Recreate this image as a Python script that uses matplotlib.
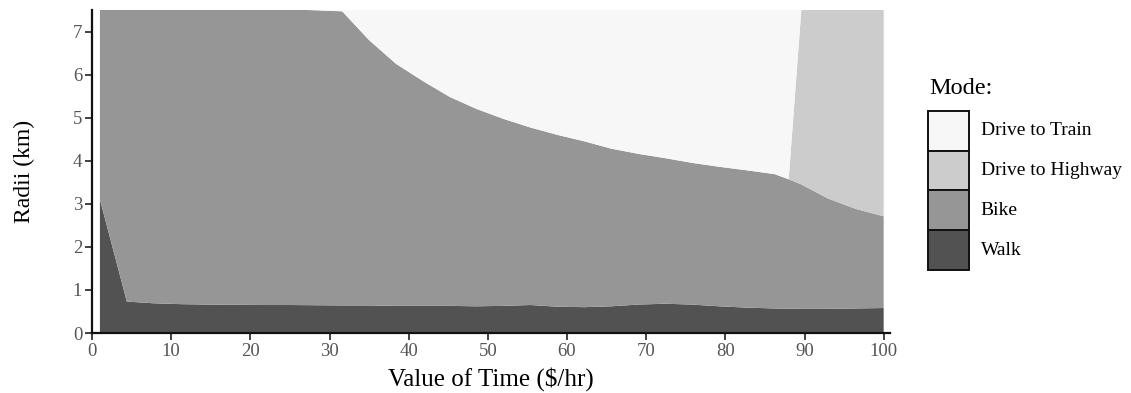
import matplotlib
matplotlib.use("Agg")
import matplotlib.pyplot as plt
from matplotlib.patches import Rectangle

plt.rcParams['font.family'] = ['Liberation Serif', 'DejaVu Serif']

# value of time ($/hr)
vot = [1, 4.4, 7.8, 11.2, 14.6, 18, 21.4, 24.8, 28.2, 31.6, 35, 38.4, 41.8, 45.2,
       48.6, 52, 55.4, 58.8, 62.2, 65.6, 69, 72.4, 75.8, 79.2, 82.6, 86.2, 88.0,
       89.6, 93, 96.5, 100]

# outer radius of each mode's catchment (km)
walk_radius = [3.10, 0.73, 0.69, 0.67, 0.66, 0.655, 0.65, 0.65, 0.645, 0.64, 0.64,
               0.63, 0.63, 0.63, 0.62, 0.63, 0.65, 0.61, 0.60, 0.62, 0.66, 0.68,
               0.66, 0.62, 0.59, 0.57, 0.565, 0.56, 0.56, 0.57, 0.58]
bike_radius = [7.52, 7.52, 7.52, 7.52, 7.52, 7.52, 7.52, 7.52, 7.49, 7.47, 6.80,
               6.25, 5.85, 5.48, 5.20, 4.97, 4.77, 4.60, 4.45, 4.28, 4.16, 4.06,
               3.95, 3.86, 3.78, 3.69, 3.57, 3.45, 3.12, 2.88, 2.71]
highway_radius = [7.52, 7.52, 7.52, 7.52, 7.52, 7.52, 7.52, 7.52, 7.49, 7.47, 6.80,
                  6.25, 5.85, 5.48, 5.20, 4.97, 4.77, 4.60, 4.45, 4.28, 4.16, 4.06,
                  3.95, 3.86, 3.78, 3.69, 3.57, 7.5, 8, 8, 8]
train_radius = [7.52, 7.52, 7.52, 7.52, 7.52, 7.52, 7.52, 7.52, 7.49, 7.5, 8, 8, 8,
                8, 8, 8, 8, 8, 8, 8, 8, 8, 8, 8, 8, 8, 8, 7.5, 8, 8, 8]

modes = ['Drive to Train', 'Drive to Highway', 'Bike', 'Walk']
colors = ['#f7f7f7', '#cccccc', '#969696', '#525252']

W, H = 1131, 393
fig = plt.figure(figsize=(W / 100, H / 100), dpi=100)
ax = fig.add_axes([92 / W, 60 / H, 798 / W, 323 / H])

layers = [([0] * len(vot), walk_radius, colors[3]),
          (walk_radius, bike_radius, colors[2]),
          (bike_radius, highway_radius, colors[1]),
          (highway_radius, train_radius, colors[0])]
for lo, hi, c in layers:
    ax.fill_between(vot, lo, hi, facecolor=c, edgecolor='none', lw=0)

ax.set_xlim(0, 100.8)
ax.set_ylim(0, 7.5)
ax.set_xticks(range(0, 101, 10))
ax.set_yticks(range(0, 8))
for s in ['top', 'right']:
    ax.spines[s].set_visible(False)
for s in ['left', 'bottom']:
    ax.spines[s].set_linewidth(1.6)
    ax.spines[s].set_color('#111111')
ax.tick_params(length=5, width=1.3, color='#333333', labelsize=13.5,
               labelcolor='#555555', pad=2)
ax.set_xlabel('Value of Time ($/hr)', fontsize=18, labelpad=5)
ax.set_ylabel('Radii (km)', fontsize=17, labelpad=27)

# legend drawn as a column of swatches
fig.text(929 / W, 1 - 88 / H, 'Mode:', fontsize=17.5, va='center', ha='left')
lax = fig.add_axes([928 / W, (H - 270) / H, 41 / W, 159 / H])
lax.set_xlim(0, 1)
lax.set_ylim(0, len(modes))
lax.axis('off')
for i, (m, c) in enumerate(zip(modes, colors)):
    y0 = len(modes) - 1 - i
    lax.add_patch(Rectangle((0, y0), 1, 1, facecolor=c, edgecolor='#111111',
                            lw=1.4, clip_on=False))
    lax.text(1.29, y0 + 0.5, m, fontsize=14, va='center', ha='left')

fig.savefig('out.png', dpi=100)
